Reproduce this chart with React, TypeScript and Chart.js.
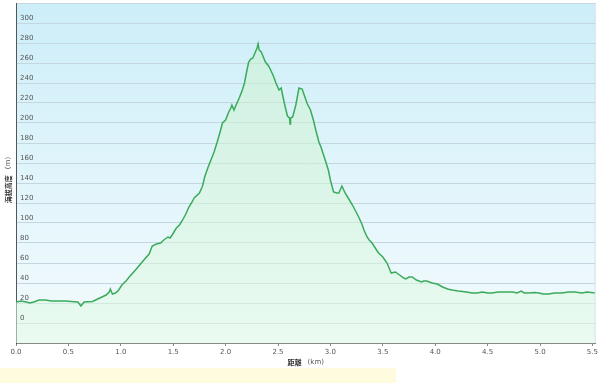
import React, { useEffect, useRef } from 'react';
import { Chart, registerables } from 'chart.js';

Chart.register(...registerables);

const distanceKm = [
  0.0, 0.05, 0.1, 0.13, 0.17, 0.22, 0.28, 0.34, 0.41, 0.47, 0.53, 0.59, 0.62, 0.65, 0.73, 0.8, 0.86, 0.89, 0.9, 0.92,
  0.95, 0.98, 1.01, 1.05, 1.08, 1.14, 1.18, 1.22, 1.27, 1.3, 1.34, 1.38, 1.41, 1.45, 1.47, 1.49, 1.53, 1.56, 1.59, 1.62,
  1.65, 1.68, 1.7, 1.75, 1.78, 1.8, 1.83, 1.86, 1.89, 1.92, 1.95, 1.97, 2.0, 2.03, 2.05, 2.06, 2.08, 2.1, 2.13, 2.16,
  2.18, 2.2, 2.22, 2.24, 2.26, 2.28, 2.3, 2.31, 2.32, 2.34, 2.36, 2.38, 2.41, 2.43, 2.46, 2.48, 2.51, 2.53, 2.56, 2.59,
  2.61, 2.615, 2.62, 2.64, 2.67, 2.7, 2.73, 2.76, 2.78, 2.81, 2.84, 2.86, 2.89, 2.91, 2.95, 2.98, 3.0, 3.03, 3.06, 3.08,
  3.11, 3.14, 3.17, 3.21, 3.24, 3.27, 3.3, 3.32, 3.35, 3.37, 3.39, 3.41, 3.44, 3.46, 3.5, 3.54, 3.56, 3.58, 3.62, 3.66,
  3.7, 3.72, 3.75, 3.78, 3.82, 3.87, 3.89, 3.92, 3.97, 4.02, 4.07, 4.12, 4.16, 4.22, 4.3, 4.35, 4.4, 4.45, 4.5, 4.54,
  4.6, 4.67, 4.74, 4.78, 4.82, 4.85, 4.89, 4.95, 4.99, 5.03, 5.08, 5.14, 5.21, 5.27, 5.33, 5.4, 5.45, 5.53,
];

const elevationM = [
  21, 22, 21, 20, 21, 23, 23, 22, 22, 22, 21.5, 21, 17, 21, 21.5, 25, 28, 31, 34, 29,
  30, 33, 38, 42, 46, 53, 58, 63, 69, 77, 79, 80, 83, 86, 85, 88, 95, 98, 103, 109,
  116, 121, 125, 130, 137, 146, 155, 163, 171, 181, 192, 200, 203, 211, 215, 218, 213, 218, 225, 233,
  240, 251, 261, 264, 265, 270, 275, 279, 273, 271, 266, 261, 257, 253, 246, 240, 233, 235, 220, 207,
  205, 199, 205, 206, 218, 235, 234, 225, 219, 213, 202, 193, 181, 176, 163, 153, 143, 131, 130, 130,
  137, 130, 125, 118, 112, 106, 99, 93, 86, 83, 81, 78, 73, 70, 66, 60, 55, 50, 51, 48,
  45, 44, 46, 46, 43, 41, 42, 42, 40, 39, 36, 34, 33, 32, 31, 30, 30, 31, 30, 30,
  31, 31, 31, 30, 32, 30, 30, 30.5, 30, 29, 29, 30, 30, 31, 31, 30, 31, 30,
];

const yTickValues = [0, 20, 40, 60, 80, 100, 120, 140, 160, 180, 200, 220, 240, 260, 280, 300];
const xTickValues = [0, 0.5, 1, 1.5, 2, 2.5, 3, 3.5, 4, 4.5, 5, 5.5];
const yAxisTitle = '海拔高度';
const yAxisUnit = '(m)';
const xAxisTitle = '距離';
const xAxisUnit = '(km)';

export default function App() {
  const ref = useRef<HTMLCanvasElement>(null);

  useEffect(() => {
    const canvas = ref.current;
    if (!canvas) return;

    const bgPlugin = {
      id: 'plotBg',
      beforeDraw(chart: any) {
        const { ctx, chartArea: a } = chart;
        const g = ctx.createLinearGradient(0, a.top, 0, a.bottom);
        g.addColorStop(0, '#cdeef9');
        g.addColorStop(1, '#f4fbfd');
        ctx.save();
        ctx.fillStyle = g;
        ctx.fillRect(a.left, a.top, a.right - a.left, a.bottom - a.top);
        ctx.restore();
      },
    };

    const textPlugin = {
      id: 'texts',
      afterDatasetsDraw(chart: any) {
        const { ctx } = chart;
        const y = chart.scales.y;
        ctx.save();
        ctx.font = '7px "DejaVu Sans", sans-serif';
        ctx.fillStyle = '#555';
        ctx.textAlign = 'left';
        ctx.textBaseline = 'alphabetic';
        for (const v of yTickValues) {
          ctx.fillText(String(v), 20, y.getPixelForValue(v) - 3);
        }
        ctx.restore();
      },
      afterDraw(chart: any) {
        const { ctx, chartArea: a } = chart;
        ctx.save();
        ctx.strokeStyle = '#d3e2ea';
        ctx.lineWidth = 1;
        ctx.beginPath();
        ctx.moveTo(a.right - 0.5, a.top);
        ctx.lineTo(a.right - 0.5, a.bottom);
        ctx.stroke();

        ctx.fillStyle = '#333';
        ctx.textBaseline = 'middle';
        const cx = (a.left + a.right) / 2;
        ctx.font = 'bold 7px "Noto Sans CJK JP", sans-serif';
        const w1 = ctx.measureText(xAxisTitle).width;
        ctx.font = '7px "DejaVu Sans", sans-serif';
        const w2 = ctx.measureText(xAxisUnit).width;
        const gap = 6;
        const total = w1 + gap + w2;
        const sx = cx - total / 2;
        ctx.textAlign = 'left';
        ctx.font = 'bold 7px "Noto Sans CJK JP", sans-serif';
        ctx.fillText(xAxisTitle, sx, 362);
        ctx.font = '7px "DejaVu Sans", sans-serif';
        ctx.fillStyle = '#555';
        ctx.fillText(xAxisUnit, sx + w1 + gap, 362);

        ctx.translate(8, 180);
        ctx.rotate(-Math.PI / 2);
        ctx.fillStyle = '#333';
        ctx.font = 'bold 7px "Noto Sans CJK JP", sans-serif';
        const v1 = ctx.measureText(yAxisTitle).width;
        ctx.font = '7px "DejaVu Sans", sans-serif';
        const v2 = ctx.measureText(yAxisUnit).width;
        const vt = v1 + gap + v2;
        ctx.font = 'bold 7px "Noto Sans CJK JP", sans-serif';
        ctx.fillText(yAxisTitle, -vt / 2, 0);
        ctx.font = '7px "DejaVu Sans", sans-serif';
        ctx.fillStyle = '#555';
        ctx.fillText(yAxisUnit, -vt / 2 + v1 + gap, 0);
        ctx.restore();
      },
    };

    const points = distanceKm.map((d, i) => ({ x: d, y: elevationM[i] }));

    const chart = new Chart(canvas, {
      type: 'line',
      data: {
        datasets: [
          {
            data: points,
            borderColor: '#3aab5b',
            borderWidth: 1.5,
            pointRadius: 0,
            tension: 0,
            fill: 'start',
            backgroundColor: (context: any) => {
              const a = context.chart.chartArea;
              if (!a) return 'rgba(190,240,205,0.4)';
              const g = context.chart.ctx.createLinearGradient(0, a.top, 0, a.bottom);
              g.addColorStop(0, 'rgba(200,240,200,0.5)');
              g.addColorStop(1, 'rgba(225,250,230,0.55)');
              return g;
            },
          },
        ],
      },
      options: {
        animation: false,
        responsive: false,
        maintainAspectRatio: false,
        layout: { padding: { top: 3, right: 3, left: 0, bottom: 0 } },
        plugins: {
          legend: { display: false },
          tooltip: { enabled: false },
        },
        scales: {
          x: {
            type: 'linear',
            min: 0,
            max: 5.53,
            afterFit: (scale: any) => {
              scale.height = 40;
            },
            afterBuildTicks: (axis: any) => {
              axis.ticks = xTickValues.map((v) => ({ value: v }));
            },
            ticks: {
              autoSkip: false,
              maxRotation: 0,
              padding: 2,
              color: '#555',
              font: { family: '"DejaVu Sans", sans-serif', size: 7 },
              callback: (v: any) => Number(v).toFixed(1),
            },
            grid: {
              display: true,
              drawOnChartArea: false,
              drawTicks: true,
              tickLength: 3,
              color: '#888',
            },
            border: { display: true, color: '#888', width: 1 },
          },
          y: {
            type: 'linear',
            min: -20,
            max: 320,
            afterFit: (scale: any) => {
              scale.width = 16;
            },
            ticks: { display: false, stepSize: 20 },
            grid: {
              color: '#c4d6df',
              lineWidth: 1,
              drawTicks: false,
            },
            border: { display: true, color: '#555', width: 1 },
          },
        },
      },
      plugins: [bgPlugin, textPlugin],
    });

    return () => chart.destroy();
  }, []);

  return (
    <div style={{ position: 'fixed', left: 0, top: 0, width: 600, height: 383, background: '#fff' }}>
      <div
        style={{
          position: 'absolute',
          left: 0,
          top: 368,
          width: 396,
          height: 15,
          background: '#fffbdf',
        }}
      />
      <canvas
        ref={ref}
        width={600}
        height={383}
        style={{ position: 'absolute', left: 0, top: 0, display: 'block' }}
      />
    </div>
  );
}
